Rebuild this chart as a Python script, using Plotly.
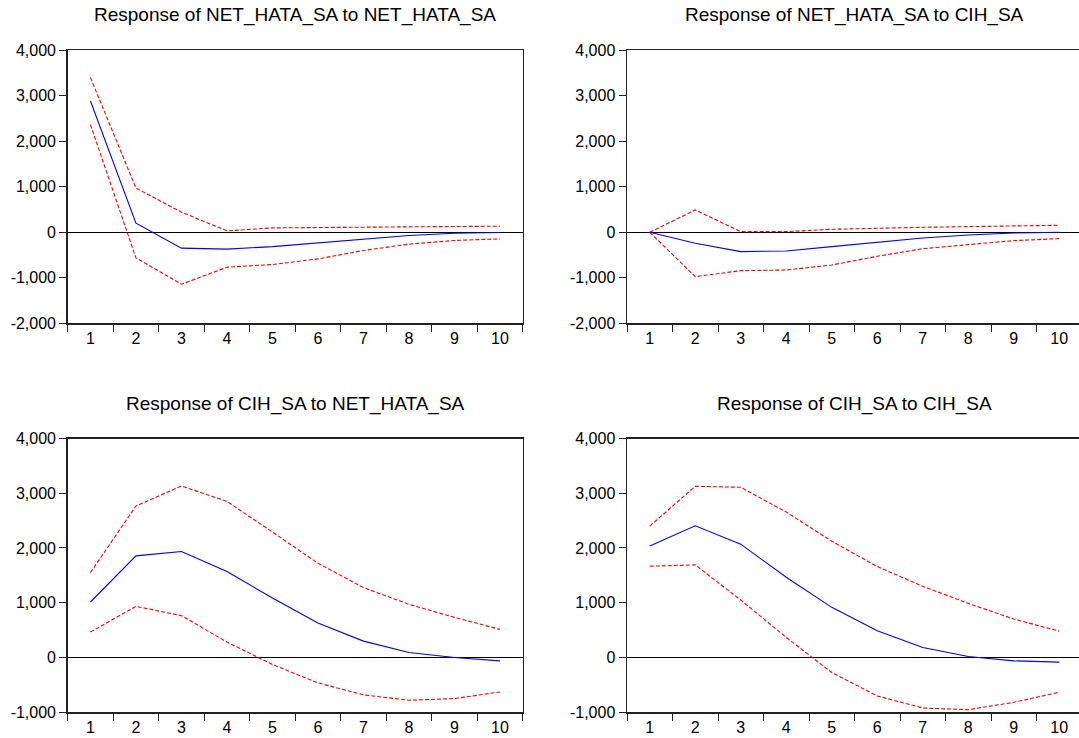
import plotly.graph_objects as go

W, H = 1079, 738

periods = [1, 2, 3, 4, 5, 6, 7, 8, 9, 10]

titles = [
    "Response of NET_HATA_SA to NET_HATA_SA",
    "Response of NET_HATA_SA to CIH_SA",
    "Response of CIH_SA to NET_HATA_SA",
    "Response of CIH_SA to CIH_SA",
]

# Response of NET_HATA_SA to NET_HATA_SA
resp_nn = [2885, 200, -348, -370, -315, -230, -145, -70, -20, -5]
up_nn = [3400, 972, 443, 31, 97, 112, 112, 120, 127, 134]
lo_nn = [2365, -563, -1142, -768, -708, -585, -400, -260, -180, -144]

# Response of NET_HATA_SA to CIH_SA
resp_nc = [0, -242, -425, -410, -315, -213, -125, -59, -15, 0]
up_nc = [0, 492, 15, 15, 66, 95, 110, 125, 147, 154]
lo_nc = [0, -975, -843, -829, -719, -528, -360, -264, -183, -139]

# Response of CIH_SA to NET_HATA_SA
resp_cn = [1011, 1855, 1934, 1567, 1085, 626, 296, 88, -4, -65]
up_cn = [1549, 2765, 3132, 2851, 2289, 1720, 1274, 968, 730, 510]
lo_cn = [461, 932, 761, 278, -131, -467, -687, -785, -755, -633]

# Response of CIH_SA to CIH_SA
resp_cc = [2037, 2405, 2069, 1463, 913, 485, 180, 15, -65, -89]
up_cc = [2399, 3126, 3108, 2655, 2123, 1659, 1298, 986, 699, 479]
lo_cc = [1665, 1689, 1047, 363, -279, -707, -927, -958, -823, -639]

yticks_top = [-2000, -1000, 0, 1000, 2000, 3000, 4000]
yticks_bot = [-1000, 0, 1000, 2000, 3000, 4000]


def tick_text(vals):
    return [f"{v:,}" for v in vals]


panels = [
    (resp_nn, up_nn, lo_nn, yticks_top),
    (resp_nc, up_nc, lo_nc, yticks_top),
    (resp_cn, up_cn, lo_cn, yticks_bot),
    (resp_cc, up_cc, lo_cc, yticks_bot),
]

# pixel geometry of each plot box: (left, right, top, bottom)
boxes = [
    (67.7, 522.7, 50.3, 323.3),
    (627.0, 1079.0, 50.3, 323.3),
    (67.7, 522.7, 438.5, 712.0),
    (627.0, 1079.0, 438.5, 712.0),
]
cat_px = 45.5

FONT = "Liberation Sans, Arial, sans-serif"
AX = "#222222"
TXT = "#000000"

fig = go.Figure()
layout = dict(
    width=W, height=H,
    margin=dict(l=0, r=0, t=0, b=0, autoexpand=False),
    paper_bgcolor="white", plot_bgcolor="white",
    showlegend=False,
    font=dict(family=FONT, size=16, color=TXT),
    annotations=[],
)

for i, ((resp, up, lo, yt), (l, r, t, b)) in enumerate(zip(panels, boxes)):
    n = "" if i == 0 else str(i + 1)
    xa, ya = "x" + n, "y" + n
    for vals, color, dash in ((up, "#FF0000", "4px,2px"),
                              (lo, "#FF0000", "4px,2px"),
                              (resp, "#0000FF", "solid")):
        fig.add_trace(go.Scatter(
            x=periods, y=vals, mode="lines", xaxis=xa, yaxis=ya,
            line=dict(color=color, width=1.1, dash=dash),
            hoverinfo="skip"))
    xmax = 0.5 + (r - l) / cat_px
    is_right = i % 2 == 1
    layout["xaxis" + n] = dict(
        domain=[l / W, r / W], anchor=ya, automargin=False,
        range=[0.5, xmax], tickmode="array", tickvals=periods,
        ticktext=[str(p) for p in periods], ticks="", ticklen=0,
        tickfont=dict(size=16, family=FONT, color=TXT),
        showgrid=False, zeroline=False,
        showline=True, linecolor=AX, linewidth=1.5, mirror=True,
        minor=dict(tick0=0.5, dtick=1, ticks="outside", ticklen=7,
                   tickcolor=AX, tickwidth=1, showgrid=False),
    )
    layout["yaxis" + n] = dict(
        domain=[1 - b / H, 1 - t / H], anchor=xa, automargin=False,
        range=[yt[0], yt[-1]], tickmode="array", tickvals=yt,
        ticktext=tick_text(yt), ticks="outside", ticklen=7,
        tickcolor=AX, tickwidth=1,
        tickfont=dict(size=16, family=FONT, color=TXT),
        showgrid=False,
        zeroline=True, zerolinecolor="#000000", zerolinewidth=1,
        showline=True, linecolor=AX, linewidth=1.5,
        mirror=(not is_right),
    )
    cx = (l + (l + 10 * cat_px)) / 2
    layout["annotations"].append(dict(
        text=titles[i], xref="paper", yref="paper",
        x=cx / W, y=1 - (t - 22) / H, xanchor="center", yanchor="bottom",
        showarrow=False, font=dict(size=19, family=FONT, color=TXT)))

fig.update_layout(**layout)
fig.write_html(
    "out.html",
    config={"displayModeBar": False, "staticPlot": True},
    post_script="document.body.style.margin='0';document.body.style.padding='0';"
                "document.body.style.overflow='hidden';",
)
